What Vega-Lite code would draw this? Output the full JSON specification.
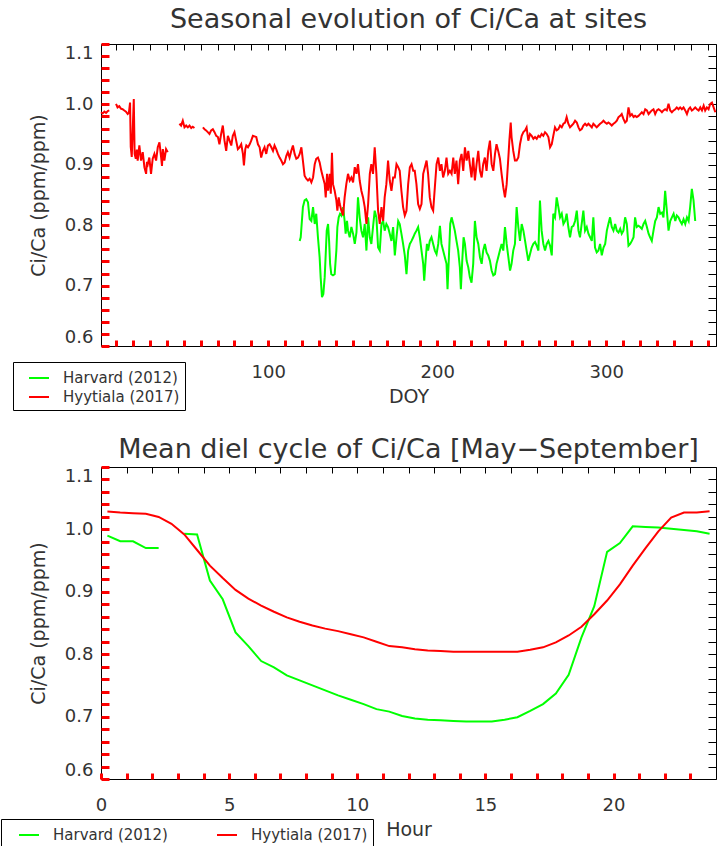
{
  "$schema": "https://vega.github.io/schema/vega-lite/v6.json",
  "background": "white",
  "padding": {"left": 0, "top": 5, "right": 2, "bottom": 0},
  "spacing": 121,
  "bounds": "flush",
  "config": {
    "font": "DejaVu Sans",
    "view": {"stroke": "black", "strokeWidth": 1},
    "axis": {"domain": false, "ticks": true, "tickColor": "#000000", "tickOpacity": 1, "tickWidth": 1, "zindex": 1, "labelColor": "#333", "labelFontSize": 18, "titleColor": "#333", "titleFontSize": 19, "titleFontWeight": "normal", "grid": false, "labelOverlap": false},
    "title": {"color": "#333", "fontWeight": "normal", "fontSize": 27, "anchor": "middle"},
    "legend": {"labelColor": "#333", "labelFontSize": 15}
  },
  "resolve": {"scale": {"color": "independent"}, "legend": {"color": "independent"}},
  "datasets": {
    "seasonal": [
      {"site":"Harvard (2012)","seg":"H","doy":118.6,"ci_ca":0.774},{"site":"Harvard (2012)","seg":"H","doy":119.2,"ci_ca":0.780},{"site":"Harvard (2012)","seg":"H","doy":120.5,"ci_ca":0.830},{"site":"Harvard (2012)","seg":"H","doy":121.5,"ci_ca":0.841},{"site":"Harvard (2012)","seg":"H","doy":122.5,"ci_ca":0.843},{"site":"Harvard (2012)","seg":"H","doy":123.5,"ci_ca":0.838},{"site":"Harvard (2012)","seg":"H","doy":124.5,"ci_ca":0.810},{"site":"Harvard (2012)","seg":"H","doy":125.5,"ci_ca":0.807},{"site":"Harvard (2012)","seg":"H","doy":126.5,"ci_ca":0.830},{"site":"Harvard (2012)","seg":"H","doy":127.5,"ci_ca":0.802},{"site":"Harvard (2012)","seg":"H","doy":128.4,"ci_ca":0.819},{"site":"Harvard (2012)","seg":"H","doy":129.4,"ci_ca":0.780},{"site":"Harvard (2012)","seg":"H","doy":130.4,"ci_ca":0.747},{"site":"Harvard (2012)","seg":"H","doy":131.0,"ci_ca":0.714},{"site":"Harvard (2012)","seg":"H","doy":131.8,"ci_ca":0.681},{"site":"Harvard (2012)","seg":"H","doy":132.6,"ci_ca":0.686},{"site":"Harvard (2012)","seg":"H","doy":133.4,"ci_ca":0.714},{"site":"Harvard (2012)","seg":"H","doy":134.0,"ci_ca":0.752},{"site":"Harvard (2012)","seg":"H","doy":134.6,"ci_ca":0.791},{"site":"Harvard (2012)","seg":"H","doy":135.4,"ci_ca":0.802},{"site":"Harvard (2012)","seg":"H","doy":136.0,"ci_ca":0.774},{"site":"Harvard (2012)","seg":"H","doy":136.6,"ci_ca":0.736},{"site":"Harvard (2012)","seg":"H","doy":137.3,"ci_ca":0.719},{"site":"Harvard (2012)","seg":"H","doy":138.3,"ci_ca":0.717},{"site":"Harvard (2012)","seg":"H","doy":139.3,"ci_ca":0.719},{"site":"Harvard (2012)","seg":"H","doy":140.3,"ci_ca":0.758},{"site":"Harvard (2012)","seg":"H","doy":140.9,"ci_ca":0.797},{"site":"Harvard (2012)","seg":"H","doy":141.7,"ci_ca":0.813},{"site":"Harvard (2012)","seg":"H","doy":142.5,"ci_ca":0.819},{"site":"Harvard (2012)","seg":"H","doy":143.3,"ci_ca":0.816},{"site":"Harvard (2012)","seg":"H","doy":144.3,"ci_ca":0.830},{"site":"Harvard (2012)","seg":"H","doy":145.2,"ci_ca":0.807},{"site":"Harvard (2012)","seg":"H","doy":145.8,"ci_ca":0.786},{"site":"Harvard (2012)","seg":"H","doy":146.6,"ci_ca":0.807},{"site":"Harvard (2012)","seg":"H","doy":147.2,"ci_ca":0.791},{"site":"Harvard (2012)","seg":"H","doy":148.2,"ci_ca":0.780},{"site":"Harvard (2012)","seg":"H","doy":149.2,"ci_ca":0.797},{"site":"Harvard (2012)","seg":"H","doy":150.2,"ci_ca":0.786},{"site":"Harvard (2012)","seg":"H","doy":151.2,"ci_ca":0.769},{"site":"Harvard (2012)","seg":"H","doy":152.2,"ci_ca":0.788},{"site":"Harvard (2012)","seg":"H","doy":153.1,"ci_ca":0.846},{"site":"Harvard (2012)","seg":"H","doy":154.1,"ci_ca":0.813},{"site":"Harvard (2012)","seg":"H","doy":155.1,"ci_ca":0.791},{"site":"Harvard (2012)","seg":"H","doy":156.1,"ci_ca":0.780},{"site":"Harvard (2012)","seg":"H","doy":157.1,"ci_ca":0.802},{"site":"Harvard (2012)","seg":"H","doy":158.1,"ci_ca":0.758},{"site":"Harvard (2012)","seg":"H","doy":159.1,"ci_ca":0.813},{"site":"Harvard (2012)","seg":"H","doy":160.1,"ci_ca":0.780},{"site":"Harvard (2012)","seg":"H","doy":161.0,"ci_ca":0.769},{"site":"Harvard (2012)","seg":"H","doy":162.0,"ci_ca":0.797},{"site":"Harvard (2012)","seg":"H","doy":163.0,"ci_ca":0.824},{"site":"Harvard (2012)","seg":"H","doy":164.0,"ci_ca":0.813},{"site":"Harvard (2012)","seg":"H","doy":165.0,"ci_ca":0.763},{"site":"Harvard (2012)","seg":"H","doy":166.0,"ci_ca":0.758},{"site":"Harvard (2012)","seg":"H","doy":167.0,"ci_ca":0.802},{"site":"Harvard (2012)","seg":"H","doy":168.0,"ci_ca":0.807},{"site":"Harvard (2012)","seg":"H","doy":168.9,"ci_ca":0.791},{"site":"Harvard (2012)","seg":"H","doy":169.9,"ci_ca":0.802},{"site":"Harvard (2012)","seg":"H","doy":170.9,"ci_ca":0.797},{"site":"Harvard (2012)","seg":"H","doy":171.9,"ci_ca":0.786},{"site":"Harvard (2012)","seg":"H","doy":172.9,"ci_ca":0.774},
      {"site":"Harvard (2012)","seg":"H","doy":173.9,"ci_ca":0.797},{"site":"Harvard (2012)","seg":"H","doy":174.9,"ci_ca":0.750},{"site":"Harvard (2012)","seg":"H","doy":175.9,"ci_ca":0.780},{"site":"Harvard (2012)","seg":"H","doy":176.9,"ci_ca":0.807},{"site":"Harvard (2012)","seg":"H","doy":177.8,"ci_ca":0.802},{"site":"Harvard (2012)","seg":"H","doy":178.8,"ci_ca":0.786},{"site":"Harvard (2012)","seg":"H","doy":179.8,"ci_ca":0.769},{"site":"Harvard (2012)","seg":"H","doy":180.8,"ci_ca":0.750},{"site":"Harvard (2012)","seg":"H","doy":181.8,"ci_ca":0.719},{"site":"Harvard (2012)","seg":"H","doy":182.8,"ci_ca":0.758},{"site":"Harvard (2012)","seg":"H","doy":183.8,"ci_ca":0.769},{"site":"Harvard (2012)","seg":"H","doy":184.8,"ci_ca":0.774},{"site":"Harvard (2012)","seg":"H","doy":185.8,"ci_ca":0.780},{"site":"Harvard (2012)","seg":"H","doy":186.7,"ci_ca":0.786},{"site":"Harvard (2012)","seg":"H","doy":187.7,"ci_ca":0.791},{"site":"Harvard (2012)","seg":"H","doy":188.7,"ci_ca":0.797},{"site":"Harvard (2012)","seg":"H","doy":189.7,"ci_ca":0.780},{"site":"Harvard (2012)","seg":"H","doy":190.7,"ci_ca":0.758},{"site":"Harvard (2012)","seg":"H","doy":191.7,"ci_ca":0.736},{"site":"Harvard (2012)","seg":"H","doy":192.3,"ci_ca":0.708},{"site":"Harvard (2012)","seg":"H","doy":193.1,"ci_ca":0.741},{"site":"Harvard (2012)","seg":"H","doy":193.9,"ci_ca":0.769},{"site":"Harvard (2012)","seg":"H","doy":194.6,"ci_ca":0.758},{"site":"Harvard (2012)","seg":"H","doy":195.6,"ci_ca":0.774},{"site":"Harvard (2012)","seg":"H","doy":196.6,"ci_ca":0.780},{"site":"Harvard (2012)","seg":"H","doy":197.6,"ci_ca":0.769},{"site":"Harvard (2012)","seg":"H","doy":198.6,"ci_ca":0.758},{"site":"Harvard (2012)","seg":"H","doy":199.6,"ci_ca":0.752},{"site":"Harvard (2012)","seg":"H","doy":200.6,"ci_ca":0.769},{"site":"Harvard (2012)","seg":"H","doy":201.6,"ci_ca":0.799},{"site":"Harvard (2012)","seg":"H","doy":202.5,"ci_ca":0.769},{"site":"Harvard (2012)","seg":"H","doy":203.5,"ci_ca":0.758},{"site":"Harvard (2012)","seg":"H","doy":204.5,"ci_ca":0.747},{"site":"Harvard (2012)","seg":"H","doy":205.5,"ci_ca":0.736},{"site":"Harvard (2012)","seg":"H","doy":206.1,"ci_ca":0.694},{"site":"Harvard (2012)","seg":"H","doy":206.9,"ci_ca":0.747},{"site":"Harvard (2012)","seg":"H","doy":207.7,"ci_ca":0.802},{"site":"Harvard (2012)","seg":"H","doy":208.5,"ci_ca":0.813},{"site":"Harvard (2012)","seg":"H","doy":209.5,"ci_ca":0.802},{"site":"Harvard (2012)","seg":"H","doy":210.4,"ci_ca":0.791},{"site":"Harvard (2012)","seg":"H","doy":211.4,"ci_ca":0.774},{"site":"Harvard (2012)","seg":"H","doy":212.4,"ci_ca":0.758},{"site":"Harvard (2012)","seg":"H","doy":213.4,"ci_ca":0.730},{"site":"Harvard (2012)","seg":"H","doy":214.0,"ci_ca":0.694},{"site":"Harvard (2012)","seg":"H","doy":214.8,"ci_ca":0.741},{"site":"Harvard (2012)","seg":"H","doy":215.6,"ci_ca":0.780},{"site":"Harvard (2012)","seg":"H","doy":216.4,"ci_ca":0.769},{"site":"Harvard (2012)","seg":"H","doy":217.4,"ci_ca":0.741},{"site":"Harvard (2012)","seg":"H","doy":218.4,"ci_ca":0.730},{"site":"Harvard (2012)","seg":"H","doy":219.3,"ci_ca":0.714},{"site":"Harvard (2012)","seg":"H","doy":220.3,"ci_ca":0.705},{"site":"Harvard (2012)","seg":"H","doy":221.3,"ci_ca":0.736},{"site":"Harvard (2012)","seg":"H","doy":222.3,"ci_ca":0.807},{"site":"Harvard (2012)","seg":"H","doy":223.3,"ci_ca":0.780},{"site":"Harvard (2012)","seg":"H","doy":224.3,"ci_ca":0.769},{"site":"Harvard (2012)","seg":"H","doy":225.3,"ci_ca":0.747},{"site":"Harvard (2012)","seg":"H","doy":226.3,"ci_ca":0.736},{"site":"Harvard (2012)","seg":"H","doy":227.2,"ci_ca":0.758},{"site":"Harvard (2012)","seg":"H","doy":228.2,"ci_ca":0.769},{"site":"Harvard (2012)","seg":"H","doy":229.2,"ci_ca":0.755},{"site":"Harvard (2012)","seg":"H","doy":230.2,"ci_ca":0.750},{"site":"Harvard (2012)","seg":"H","doy":231.2,"ci_ca":0.741},{"site":"Harvard (2012)","seg":"H","doy":232.2,"ci_ca":0.725},{"site":"Harvard (2012)","seg":"H","doy":233.2,"ci_ca":0.717},{"site":"Harvard (2012)","seg":"H","doy":234.2,"ci_ca":0.719},{"site":"Harvard (2012)","seg":"H","doy":235.1,"ci_ca":0.736},{"site":"Harvard (2012)","seg":"H","doy":236.1,"ci_ca":0.747},{"site":"Harvard (2012)","seg":"H","doy":237.1,"ci_ca":0.758},{"site":"Harvard (2012)","seg":"H","doy":238.1,"ci_ca":0.769},{"site":"Harvard (2012)","seg":"H","doy":239.1,"ci_ca":0.758},{"site":"Harvard (2012)","seg":"H","doy":240.1,"ci_ca":0.797},{"site":"Harvard (2012)","seg":"H","doy":241.1,"ci_ca":0.769},{"site":"Harvard (2012)","seg":"H","doy":242.1,"ci_ca":0.747},{"site":"Harvard (2012)","seg":"H","doy":243.1,"ci_ca":0.725},{"site":"Harvard (2012)","seg":"H","doy":244.0,"ci_ca":0.736},{"site":"Harvard (2012)","seg":"H","doy":245.0,"ci_ca":0.758},{"site":"Harvard (2012)","seg":"H","doy":246.0,"ci_ca":0.769},{"site":"Harvard (2012)","seg":"H","doy":247.0,"ci_ca":0.830},{"site":"Harvard (2012)","seg":"H","doy":248.0,"ci_ca":0.797},{"site":"Harvard (2012)","seg":"H","doy":249.0,"ci_ca":0.774},{"site":"Harvard (2012)","seg":"H","doy":250.0,"ci_ca":0.802},{"site":"Harvard (2012)","seg":"H","doy":251.0,"ci_ca":0.791},{"site":"Harvard (2012)","seg":"H","doy":252.0,"ci_ca":0.774},{"site":"Harvard (2012)","seg":"H","doy":252.9,"ci_ca":0.758},{"site":"Harvard (2012)","seg":"H","doy":253.9,"ci_ca":0.741},{"site":"Harvard (2012)","seg":"H","doy":254.9,"ci_ca":0.752},{"site":"Harvard (2012)","seg":"H","doy":255.9,"ci_ca":0.763},{"site":"Harvard (2012)","seg":"H","doy":256.9,"ci_ca":0.769},{"site":"Harvard (2012)","seg":"H","doy":257.9,"ci_ca":0.772},{"site":"Harvard (2012)","seg":"H","doy":258.9,"ci_ca":0.766},{"site":"Harvard (2012)","seg":"H","doy":259.9,"ci_ca":0.758},{"site":"Harvard (2012)","seg":"H","doy":260.8,"ci_ca":0.841},{"site":"Harvard (2012)","seg":"H","doy":261.8,"ci_ca":0.791},{"site":"Harvard (2012)","seg":"H","doy":262.8,"ci_ca":0.769},{"site":"Harvard (2012)","seg":"H","doy":263.8,"ci_ca":0.758},{"site":"Harvard (2012)","seg":"H","doy":264.8,"ci_ca":0.769},{"site":"Harvard (2012)","seg":"H","doy":265.8,"ci_ca":0.774},{"site":"Harvard (2012)","seg":"H","doy":266.8,"ci_ca":0.766},{"site":"Harvard (2012)","seg":"H","doy":267.8,"ci_ca":0.750},{"site":"Harvard (2012)","seg":"H","doy":268.7,"ci_ca":0.819},{"site":"Harvard (2012)","seg":"H","doy":269.7,"ci_ca":0.813},{"site":"Harvard (2012)","seg":"H","doy":270.7,"ci_ca":0.846},{"site":"Harvard (2012)","seg":"H","doy":271.7,"ci_ca":0.830},{"site":"Harvard (2012)","seg":"H","doy":272.7,"ci_ca":0.813},{"site":"Harvard (2012)","seg":"H","doy":273.7,"ci_ca":0.819},{"site":"Harvard (2012)","seg":"H","doy":274.7,"ci_ca":0.802},{"site":"Harvard (2012)","seg":"H","doy":275.7,"ci_ca":0.807},{"site":"Harvard (2012)","seg":"H","doy":276.6,"ci_ca":0.819},{"site":"Harvard (2012)","seg":"H","doy":277.6,"ci_ca":0.797},{"site":"Harvard (2012)","seg":"H","doy":278.6,"ci_ca":0.780},{"site":"Harvard (2012)","seg":"H","doy":279.6,"ci_ca":0.797},{"site":"Harvard (2012)","seg":"H","doy":280.6,"ci_ca":0.799},{"site":"Harvard (2012)","seg":"H","doy":281.6,"ci_ca":0.807},{"site":"Harvard (2012)","seg":"H","doy":282.6,"ci_ca":0.824},{"site":"Harvard (2012)","seg":"H","doy":283.6,"ci_ca":0.791},{"site":"Harvard (2012)","seg":"H","doy":284.5,"ci_ca":0.780},{"site":"Harvard (2012)","seg":"H","doy":285.5,"ci_ca":0.802},{"site":"Harvard (2012)","seg":"H","doy":286.5,"ci_ca":0.824},{"site":"Harvard (2012)","seg":"H","doy":287.5,"ci_ca":0.791},{"site":"Harvard (2012)","seg":"H","doy":288.5,"ci_ca":0.797},{"site":"Harvard (2012)","seg":"H","doy":289.5,"ci_ca":0.786},{"site":"Harvard (2012)","seg":"H","doy":290.5,"ci_ca":0.780},{"site":"Harvard (2012)","seg":"H","doy":291.5,"ci_ca":0.774},{"site":"Harvard (2012)","seg":"H","doy":292.4,"ci_ca":0.813},{"site":"Harvard (2012)","seg":"H","doy":293.4,"ci_ca":0.763},{"site":"Harvard (2012)","seg":"H","doy":294.4,"ci_ca":0.755},{"site":"Harvard (2012)","seg":"H","doy":295.4,"ci_ca":0.758},{"site":"Harvard (2012)","seg":"H","doy":296.4,"ci_ca":0.769},{"site":"Harvard (2012)","seg":"H","doy":297.4,"ci_ca":0.750},{"site":"Harvard (2012)","seg":"H","doy":298.4,"ci_ca":0.763},{"site":"Harvard (2012)","seg":"H","doy":299.4,"ci_ca":0.769},{"site":"Harvard (2012)","seg":"H","doy":300.4,"ci_ca":0.791},{"site":"Harvard (2012)","seg":"H","doy":301.3,"ci_ca":0.802},{"site":"Harvard (2012)","seg":"H","doy":302.3,"ci_ca":0.813},{"site":"Harvard (2012)","seg":"H","doy":303.3,"ci_ca":0.797},{"site":"Harvard (2012)","seg":"H","doy":304.3,"ci_ca":0.791},{"site":"Harvard (2012)","seg":"H","doy":305.3,"ci_ca":0.802},{"site":"Harvard (2012)","seg":"H","doy":306.3,"ci_ca":0.791},{"site":"Harvard (2012)","seg":"H","doy":307.3,"ci_ca":0.788},{"site":"Harvard (2012)","seg":"H","doy":308.3,"ci_ca":0.794},{"site":"Harvard (2012)","seg":"H","doy":309.2,"ci_ca":0.786},{"site":"Harvard (2012)","seg":"H","doy":310.2,"ci_ca":0.791},{"site":"Harvard (2012)","seg":"H","doy":311.2,"ci_ca":0.813},{"site":"Harvard (2012)","seg":"H","doy":312.2,"ci_ca":0.802},{"site":"Harvard (2012)","seg":"H","doy":313.2,"ci_ca":0.766},{"site":"Harvard (2012)","seg":"H","doy":314.2,"ci_ca":0.769},{"site":"Harvard (2012)","seg":"H","doy":315.2,"ci_ca":0.774},{"site":"Harvard (2012)","seg":"H","doy":316.2,"ci_ca":0.780},{"site":"Harvard (2012)","seg":"H","doy":317.1,"ci_ca":0.813},{"site":"Harvard (2012)","seg":"H","doy":318.1,"ci_ca":0.797},{"site":"Harvard (2012)","seg":"H","doy":319.1,"ci_ca":0.799},{"site":"Harvard (2012)","seg":"H","doy":320.1,"ci_ca":0.797},{"site":"Harvard (2012)","seg":"H","doy":321.1,"ci_ca":0.794},{"site":"Harvard (2012)","seg":"H","doy":322.1,"ci_ca":0.802},{"site":"Harvard (2012)","seg":"H","doy":323.1,"ci_ca":0.807},{"site":"Harvard (2012)","seg":"H","doy":324.1,"ci_ca":0.797},{"site":"Harvard (2012)","seg":"H","doy":325.1,"ci_ca":0.786},{"site":"Harvard (2012)","seg":"H","doy":326.0,"ci_ca":0.780},{"site":"Harvard (2012)","seg":"H","doy":327.0,"ci_ca":0.774},{"site":"Harvard (2012)","seg":"H","doy":328.0,"ci_ca":0.791},{"site":"Harvard (2012)","seg":"H","doy":329.0,"ci_ca":0.807},{"site":"Harvard (2012)","seg":"H","doy":330.0,"ci_ca":0.813},{"site":"Harvard (2012)","seg":"H","doy":331.0,"ci_ca":0.830},{"site":"Harvard (2012)","seg":"H","doy":332.0,"ci_ca":0.819},{"site":"Harvard (2012)","seg":"H","doy":333.0,"ci_ca":0.821},{"site":"Harvard (2012)","seg":"H","doy":333.9,"ci_ca":0.813},{"site":"Harvard (2012)","seg":"H","doy":334.9,"ci_ca":0.857},{"site":"Harvard (2012)","seg":"H","doy":335.9,"ci_ca":0.824},{"site":"Harvard (2012)","seg":"H","doy":336.9,"ci_ca":0.791},{"site":"Harvard (2012)","seg":"H","doy":337.9,"ci_ca":0.807},{"site":"Harvard (2012)","seg":"H","doy":338.9,"ci_ca":0.813},{"site":"Harvard (2012)","seg":"H","doy":339.9,"ci_ca":0.819},{"site":"Harvard (2012)","seg":"H","doy":340.9,"ci_ca":0.807},{"site":"Harvard (2012)","seg":"H","doy":341.8,"ci_ca":0.816},{"site":"Harvard (2012)","seg":"H","doy":342.8,"ci_ca":0.813},{"site":"Harvard (2012)","seg":"H","doy":343.8,"ci_ca":0.807},{"site":"Harvard (2012)","seg":"H","doy":344.8,"ci_ca":0.802},{"site":"Harvard (2012)","seg":"H","doy":345.8,"ci_ca":0.810},{"site":"Harvard (2012)","seg":"H","doy":346.8,"ci_ca":0.802},{"site":"Harvard (2012)","seg":"H","doy":347.8,"ci_ca":0.813},{"site":"Harvard (2012)","seg":"H","doy":348.8,"ci_ca":0.807},{"site":"Harvard (2012)","seg":"H","doy":349.7,"ci_ca":0.830},{"site":"Harvard (2012)","seg":"H","doy":350.7,"ci_ca":0.860},{"site":"Harvard (2012)","seg":"H","doy":351.7,"ci_ca":0.841},{"site":"Harvard (2012)","seg":"H","doy":352.7,"ci_ca":0.807},
      {"site":"Hyytiala (2017)","seg":"Y1","doy":1,"ci_ca":0.987},{"site":"Hyytiala (2017)","seg":"Y1","doy":2,"ci_ca":0.985},{"site":"Hyytiala (2017)","seg":"Y1","doy":3,"ci_ca":0.988},{"site":"Hyytiala (2017)","seg":"Y1","doy":4,"ci_ca":0.986},{"site":"Hyytiala (2017)","seg":"Y1","doy":5,"ci_ca":0.989},{"site":"Hyytiala (2017)","seg":"Y1","doy":5.9,"ci_ca":0.990},
      {"site":"Hyytiala (2017)","seg":"Y2","doy":9.9,"ci_ca":1.001},{"site":"Hyytiala (2017)","seg":"Y2","doy":10.8,"ci_ca":0.995},{"site":"Hyytiala (2017)","seg":"Y2","doy":11.8,"ci_ca":0.997},{"site":"Hyytiala (2017)","seg":"Y2","doy":12.8,"ci_ca":0.993},{"site":"Hyytiala (2017)","seg":"Y2","doy":13.8,"ci_ca":0.992},{"site":"Hyytiala (2017)","seg":"Y2","doy":14.8,"ci_ca":0.990},{"site":"Hyytiala (2017)","seg":"Y2","doy":15.8,"ci_ca":0.988},{"site":"Hyytiala (2017)","seg":"Y2","doy":16.8,"ci_ca":0.984},{"site":"Hyytiala (2017)","seg":"Y2","doy":17.5,"ci_ca":0.986},{"site":"Hyytiala (2017)","seg":"Y2","doy":18.2,"ci_ca":1.003},{"site":"Hyytiala (2017)","seg":"Y2","doy":18.6,"ci_ca":0.930},{"site":"Hyytiala (2017)","seg":"Y2","doy":19.2,"ci_ca":0.913},{"site":"Hyytiala (2017)","seg":"Y2","doy":19.8,"ci_ca":0.960},{"site":"Hyytiala (2017)","seg":"Y2","doy":20.4,"ci_ca":1.009},{"site":"Hyytiala (2017)","seg":"Y2","doy":20.9,"ci_ca":0.918},{"site":"Hyytiala (2017)","seg":"Y2","doy":21.6,"ci_ca":0.910},{"site":"Hyytiala (2017)","seg":"Y2","doy":22.2,"ci_ca":0.925},{"site":"Hyytiala (2017)","seg":"Y2","doy":22.7,"ci_ca":0.907},{"site":"Hyytiala (2017)","seg":"Y2","doy":23.7,"ci_ca":0.932},{"site":"Hyytiala (2017)","seg":"Y2","doy":24.7,"ci_ca":0.907},{"site":"Hyytiala (2017)","seg":"Y2","doy":25.7,"ci_ca":0.921},{"site":"Hyytiala (2017)","seg":"Y2","doy":26.7,"ci_ca":0.896},{"site":"Hyytiala (2017)","seg":"Y2","doy":27.7,"ci_ca":0.885},{"site":"Hyytiala (2017)","seg":"Y2","doy":28.2,"ci_ca":0.905},{"site":"Hyytiala (2017)","seg":"Y2","doy":28.7,"ci_ca":0.901},{"site":"Hyytiala (2017)","seg":"Y2","doy":29.6,"ci_ca":0.912},{"site":"Hyytiala (2017)","seg":"Y2","doy":30.6,"ci_ca":0.885},{"site":"Hyytiala (2017)","seg":"Y2","doy":31.6,"ci_ca":0.910},{"site":"Hyytiala (2017)","seg":"Y2","doy":32.6,"ci_ca":0.918},{"site":"Hyytiala (2017)","seg":"Y2","doy":33.6,"ci_ca":0.907},{"site":"Hyytiala (2017)","seg":"Y2","doy":34.6,"ci_ca":0.929},{"site":"Hyytiala (2017)","seg":"Y2","doy":35.6,"ci_ca":0.937},{"site":"Hyytiala (2017)","seg":"Y2","doy":36.6,"ci_ca":0.912},{"site":"Hyytiala (2017)","seg":"Y2","doy":37.1,"ci_ca":0.898},{"site":"Hyytiala (2017)","seg":"Y2","doy":37.6,"ci_ca":0.926},{"site":"Hyytiala (2017)","seg":"Y2","doy":38.5,"ci_ca":0.907},{"site":"Hyytiala (2017)","seg":"Y2","doy":39.5,"ci_ca":0.926},{"site":"Hyytiala (2017)","seg":"Y2","doy":40.5,"ci_ca":0.921},
      {"site":"Hyytiala (2017)","seg":"Y3","doy":47.4,"ci_ca":0.968},{"site":"Hyytiala (2017)","seg":"Y3","doy":48.4,"ci_ca":0.965},{"site":"Hyytiala (2017)","seg":"Y3","doy":49.4,"ci_ca":0.973},{"site":"Hyytiala (2017)","seg":"Y3","doy":50.4,"ci_ca":0.962},{"site":"Hyytiala (2017)","seg":"Y3","doy":51.4,"ci_ca":0.965},{"site":"Hyytiala (2017)","seg":"Y3","doy":52.4,"ci_ca":0.962},{"site":"Hyytiala (2017)","seg":"Y3","doy":53.4,"ci_ca":0.965},{"site":"Hyytiala (2017)","seg":"Y3","doy":54.4,"ci_ca":0.961},{"site":"Hyytiala (2017)","seg":"Y3","doy":55.3,"ci_ca":0.963},{"site":"Hyytiala (2017)","seg":"Y3","doy":56.3,"ci_ca":0.961},
      {"site":"Hyytiala (2017)","seg":"Y4","doy":61.3,"ci_ca":0.962},{"site":"Hyytiala (2017)","seg":"Y4","doy":62.3,"ci_ca":0.959},{"site":"Hyytiala (2017)","seg":"Y4","doy":63.2,"ci_ca":0.957},{"site":"Hyytiala (2017)","seg":"Y4","doy":64.2,"ci_ca":0.954},{"site":"Hyytiala (2017)","seg":"Y4","doy":65.2,"ci_ca":0.951},{"site":"Hyytiala (2017)","seg":"Y4","doy":66.2,"ci_ca":0.957},{"site":"Hyytiala (2017)","seg":"Y4","doy":67.2,"ci_ca":0.959},{"site":"Hyytiala (2017)","seg":"Y4","doy":68.2,"ci_ca":0.954},{"site":"Hyytiala (2017)","seg":"Y4","doy":69.2,"ci_ca":0.948},{"site":"Hyytiala (2017)","seg":"Y4","doy":70.2,"ci_ca":0.946},{"site":"Hyytiala (2017)","seg":"Y4","doy":71.1,"ci_ca":0.934},{"site":"Hyytiala (2017)","seg":"Y4","doy":72.1,"ci_ca":0.951},{"site":"Hyytiala (2017)","seg":"Y4","doy":73.1,"ci_ca":0.965},{"site":"Hyytiala (2017)","seg":"Y4","doy":74.1,"ci_ca":0.940},{"site":"Hyytiala (2017)","seg":"Y4","doy":75.1,"ci_ca":0.923},{"site":"Hyytiala (2017)","seg":"Y4","doy":76.1,"ci_ca":0.948},{"site":"Hyytiala (2017)","seg":"Y4","doy":77.1,"ci_ca":0.940},{"site":"Hyytiala (2017)","seg":"Y4","doy":78.1,"ci_ca":0.932},{"site":"Hyytiala (2017)","seg":"Y4","doy":79.0,"ci_ca":0.948},{"site":"Hyytiala (2017)","seg":"Y4","doy":80.0,"ci_ca":0.954},{"site":"Hyytiala (2017)","seg":"Y4","doy":81.0,"ci_ca":0.940},{"site":"Hyytiala (2017)","seg":"Y4","doy":82.0,"ci_ca":0.926},{"site":"Hyytiala (2017)","seg":"Y4","doy":83.0,"ci_ca":0.929},{"site":"Hyytiala (2017)","seg":"Y4","doy":84.0,"ci_ca":0.934},{"site":"Hyytiala (2017)","seg":"Y4","doy":85.0,"ci_ca":0.918},{"site":"Hyytiala (2017)","seg":"Y4","doy":85.6,"ci_ca":0.899},{"site":"Hyytiala (2017)","seg":"Y4","doy":86.4,"ci_ca":0.926},{"site":"Hyytiala (2017)","seg":"Y4","doy":87.0,"ci_ca":0.932},{"site":"Hyytiala (2017)","seg":"Y4","doy":88.0,"ci_ca":0.929},{"site":"Hyytiala (2017)","seg":"Y4","doy":89.0,"ci_ca":0.934},{"site":"Hyytiala (2017)","seg":"Y4","doy":89.9,"ci_ca":0.940},{"site":"Hyytiala (2017)","seg":"Y4","doy":90.9,"ci_ca":0.948},{"site":"Hyytiala (2017)","seg":"Y4","doy":91.9,"ci_ca":0.947},{"site":"Hyytiala (2017)","seg":"Y4","doy":92.9,"ci_ca":0.946},{"site":"Hyytiala (2017)","seg":"Y4","doy":93.9,"ci_ca":0.934},{"site":"Hyytiala (2017)","seg":"Y4","doy":94.9,"ci_ca":0.929},{"site":"Hyytiala (2017)","seg":"Y4","doy":95.8,"ci_ca":0.912},{"site":"Hyytiala (2017)","seg":"Y4","doy":96.8,"ci_ca":0.923},{"site":"Hyytiala (2017)","seg":"Y4","doy":97.8,"ci_ca":0.929},{"site":"Hyytiala (2017)","seg":"Y4","doy":98.8,"ci_ca":0.918},{"site":"Hyytiala (2017)","seg":"Y4","doy":99.8,"ci_ca":0.932},{"site":"Hyytiala (2017)","seg":"Y4","doy":100.8,"ci_ca":0.934},{"site":"Hyytiala (2017)","seg":"Y4","doy":101.8,"ci_ca":0.929},{"site":"Hyytiala (2017)","seg":"Y4","doy":102.8,"ci_ca":0.923},{"site":"Hyytiala (2017)","seg":"Y4","doy":103.7,"ci_ca":0.932},{"site":"Hyytiala (2017)","seg":"Y4","doy":104.7,"ci_ca":0.926},{"site":"Hyytiala (2017)","seg":"Y4","doy":105.7,"ci_ca":0.918},{"site":"Hyytiala (2017)","seg":"Y4","doy":106.7,"ci_ca":0.912},{"site":"Hyytiala (2017)","seg":"Y4","doy":107.7,"ci_ca":0.907},{"site":"Hyytiala (2017)","seg":"Y4","doy":108.7,"ci_ca":0.901},{"site":"Hyytiala (2017)","seg":"Y4","doy":109.7,"ci_ca":0.904},{"site":"Hyytiala (2017)","seg":"Y4","doy":110.7,"ci_ca":0.915},{"site":"Hyytiala (2017)","seg":"Y4","doy":111.6,"ci_ca":0.921},{"site":"Hyytiala (2017)","seg":"Y4","doy":112.6,"ci_ca":0.912},{"site":"Hyytiala (2017)","seg":"Y4","doy":113.6,"ci_ca":0.923},{"site":"Hyytiala (2017)","seg":"Y4","doy":114.6,"ci_ca":0.932},{"site":"Hyytiala (2017)","seg":"Y4","doy":115.6,"ci_ca":0.918},{"site":"Hyytiala (2017)","seg":"Y4","doy":116.6,"ci_ca":0.910},{"site":"Hyytiala (2017)","seg":"Y4","doy":117.6,"ci_ca":0.912},{"site":"Hyytiala (2017)","seg":"Y4","doy":118.6,"ci_ca":0.918},{"site":"Hyytiala (2017)","seg":"Y4","doy":119.6,"ci_ca":0.929},{"site":"Hyytiala (2017)","seg":"Y4","doy":120.5,"ci_ca":0.907},{"site":"Hyytiala (2017)","seg":"Y4","doy":121.5,"ci_ca":0.882},{"site":"Hyytiala (2017)","seg":"Y4","doy":122.5,"ci_ca":0.877},{"site":"Hyytiala (2017)","seg":"Y4","doy":123.5,"ci_ca":0.874},{"site":"Hyytiala (2017)","seg":"Y4","doy":124.5,"ci_ca":0.877},{"site":"Hyytiala (2017)","seg":"Y4","doy":125.5,"ci_ca":0.871},{"site":"Hyytiala (2017)","seg":"Y4","doy":126.5,"ci_ca":0.879},{"site":"Hyytiala (2017)","seg":"Y4","doy":127.5,"ci_ca":0.901},{"site":"Hyytiala (2017)","seg":"Y4","doy":128.4,"ci_ca":0.910},{"site":"Hyytiala (2017)","seg":"Y4","doy":129.4,"ci_ca":0.912},{"site":"Hyytiala (2017)","seg":"Y4","doy":130.4,"ci_ca":0.904},{"site":"Hyytiala (2017)","seg":"Y4","doy":131.4,"ci_ca":0.890},{"site":"Hyytiala (2017)","seg":"Y4","doy":132.4,"ci_ca":0.879},{"site":"Hyytiala (2017)","seg":"Y4","doy":133.4,"ci_ca":0.868},{"site":"Hyytiala (2017)","seg":"Y4","doy":134.0,"ci_ca":0.846},{"site":"Hyytiala (2017)","seg":"Y4","doy":134.8,"ci_ca":0.885},{"site":"Hyytiala (2017)","seg":"Y4","doy":135.4,"ci_ca":0.857},{"site":"Hyytiala (2017)","seg":"Y4","doy":136.4,"ci_ca":0.885},{"site":"Hyytiala (2017)","seg":"Y4","doy":137.0,"ci_ca":0.852},{"site":"Hyytiala (2017)","seg":"Y4","doy":137.7,"ci_ca":0.920},{"site":"Hyytiala (2017)","seg":"Y4","doy":138.3,"ci_ca":0.868},{"site":"Hyytiala (2017)","seg":"Y4","doy":139.3,"ci_ca":0.857},{"site":"Hyytiala (2017)","seg":"Y4","doy":140.3,"ci_ca":0.841},{"site":"Hyytiala (2017)","seg":"Y4","doy":140.9,"ci_ca":0.824},{"site":"Hyytiala (2017)","seg":"Y4","doy":141.7,"ci_ca":0.846},{"site":"Hyytiala (2017)","seg":"Y4","doy":142.3,"ci_ca":0.835},{"site":"Hyytiala (2017)","seg":"Y4","doy":143.3,"ci_ca":0.824},{"site":"Hyytiala (2017)","seg":"Y4","doy":144.3,"ci_ca":0.816},{"site":"Hyytiala (2017)","seg":"Y4","doy":145.2,"ci_ca":0.846},{"site":"Hyytiala (2017)","seg":"Y4","doy":146.2,"ci_ca":0.868},{"site":"Hyytiala (2017)","seg":"Y4","doy":147.2,"ci_ca":0.885},{"site":"Hyytiala (2017)","seg":"Y4","doy":148.2,"ci_ca":0.874},{"site":"Hyytiala (2017)","seg":"Y4","doy":149.2,"ci_ca":0.879},{"site":"Hyytiala (2017)","seg":"Y4","doy":150.2,"ci_ca":0.871},{"site":"Hyytiala (2017)","seg":"Y4","doy":151.2,"ci_ca":0.896},{"site":"Hyytiala (2017)","seg":"Y4","doy":152.2,"ci_ca":0.885},{"site":"Hyytiala (2017)","seg":"Y4","doy":153.1,"ci_ca":0.901},{"site":"Hyytiala (2017)","seg":"Y4","doy":154.1,"ci_ca":0.874},{"site":"Hyytiala (2017)","seg":"Y4","doy":155.1,"ci_ca":0.857},{"site":"Hyytiala (2017)","seg":"Y4","doy":156.1,"ci_ca":0.846},{"site":"Hyytiala (2017)","seg":"Y4","doy":157.1,"ci_ca":0.830},{"site":"Hyytiala (2017)","seg":"Y4","doy":158.1,"ci_ca":0.802},{"site":"Hyytiala (2017)","seg":"Y4","doy":159.1,"ci_ca":0.835},{"site":"Hyytiala (2017)","seg":"Y4","doy":160.1,"ci_ca":0.885},{"site":"Hyytiala (2017)","seg":"Y4","doy":161.0,"ci_ca":0.901},{"site":"Hyytiala (2017)","seg":"Y4","doy":162.0,"ci_ca":0.885},{"site":"Hyytiala (2017)","seg":"Y4","doy":163.0,"ci_ca":0.929},{"site":"Hyytiala (2017)","seg":"Y4","doy":164.0,"ci_ca":0.885},{"site":"Hyytiala (2017)","seg":"Y4","doy":165.0,"ci_ca":0.824},{"site":"Hyytiala (2017)","seg":"Y4","doy":166.0,"ci_ca":0.802},{"site":"Hyytiala (2017)","seg":"Y4","doy":167.0,"ci_ca":0.830},{"site":"Hyytiala (2017)","seg":"Y4","doy":168.0,"ci_ca":0.807},{"site":"Hyytiala (2017)","seg":"Y4","doy":168.9,"ci_ca":0.846},{"site":"Hyytiala (2017)","seg":"Y4","doy":169.9,"ci_ca":0.868},{"site":"Hyytiala (2017)","seg":"Y4","doy":170.9,"ci_ca":0.907},{"site":"Hyytiala (2017)","seg":"Y4","doy":171.9,"ci_ca":0.874},{"site":"Hyytiala (2017)","seg":"Y4","doy":172.9,"ci_ca":0.857},{"site":"Hyytiala (2017)","seg":"Y4","doy":173.9,"ci_ca":0.879},{"site":"Hyytiala (2017)","seg":"Y4","doy":174.9,"ci_ca":0.879},{"site":"Hyytiala (2017)","seg":"Y4","doy":175.9,"ci_ca":0.901},{"site":"Hyytiala (2017)","seg":"Y4","doy":176.9,"ci_ca":0.896},{"site":"Hyytiala (2017)","seg":"Y4","doy":177.8,"ci_ca":0.890},{"site":"Hyytiala (2017)","seg":"Y4","doy":178.8,"ci_ca":0.857},{"site":"Hyytiala (2017)","seg":"Y4","doy":179.8,"ci_ca":0.830},{"site":"Hyytiala (2017)","seg":"Y4","doy":180.8,"ci_ca":0.816},{"site":"Hyytiala (2017)","seg":"Y4","doy":181.8,"ci_ca":0.824},{"site":"Hyytiala (2017)","seg":"Y4","doy":182.8,"ci_ca":0.868},{"site":"Hyytiala (2017)","seg":"Y4","doy":183.8,"ci_ca":0.896},{"site":"Hyytiala (2017)","seg":"Y4","doy":184.8,"ci_ca":0.901},{"site":"Hyytiala (2017)","seg":"Y4","doy":185.8,"ci_ca":0.890},{"site":"Hyytiala (2017)","seg":"Y4","doy":186.7,"ci_ca":0.890},{"site":"Hyytiala (2017)","seg":"Y4","doy":187.7,"ci_ca":0.868},{"site":"Hyytiala (2017)","seg":"Y4","doy":188.7,"ci_ca":0.835},{"site":"Hyytiala (2017)","seg":"Y4","doy":189.7,"ci_ca":0.827},{"site":"Hyytiala (2017)","seg":"Y4","doy":190.7,"ci_ca":0.835},{"site":"Hyytiala (2017)","seg":"Y4","doy":191.7,"ci_ca":0.885},{"site":"Hyytiala (2017)","seg":"Y4","doy":192.7,"ci_ca":0.896},{"site":"Hyytiala (2017)","seg":"Y4","doy":193.7,"ci_ca":0.907},{"site":"Hyytiala (2017)","seg":"Y4","doy":194.6,"ci_ca":0.885},{"site":"Hyytiala (2017)","seg":"Y4","doy":195.6,"ci_ca":0.846},{"site":"Hyytiala (2017)","seg":"Y4","doy":196.6,"ci_ca":0.830},{"site":"Hyytiala (2017)","seg":"Y4","doy":197.6,"ci_ca":0.824},{"site":"Hyytiala (2017)","seg":"Y4","doy":198.6,"ci_ca":0.863},{"site":"Hyytiala (2017)","seg":"Y4","doy":199.6,"ci_ca":0.901},{"site":"Hyytiala (2017)","seg":"Y4","doy":200.6,"ci_ca":0.912},{"site":"Hyytiala (2017)","seg":"Y4","doy":201.6,"ci_ca":0.890},{"site":"Hyytiala (2017)","seg":"Y4","doy":202.5,"ci_ca":0.901},{"site":"Hyytiala (2017)","seg":"Y4","doy":203.5,"ci_ca":0.879},{"site":"Hyytiala (2017)","seg":"Y4","doy":204.5,"ci_ca":0.890},{"site":"Hyytiala (2017)","seg":"Y4","doy":205.5,"ci_ca":0.912},{"site":"Hyytiala (2017)","seg":"Y4","doy":206.5,"ci_ca":0.885},{"site":"Hyytiala (2017)","seg":"Y4","doy":207.5,"ci_ca":0.890},{"site":"Hyytiala (2017)","seg":"Y4","doy":208.5,"ci_ca":0.885},{"site":"Hyytiala (2017)","seg":"Y4","doy":209.5,"ci_ca":0.912},{"site":"Hyytiala (2017)","seg":"Y4","doy":210.4,"ci_ca":0.885},{"site":"Hyytiala (2017)","seg":"Y4","doy":211.4,"ci_ca":0.907},{"site":"Hyytiala (2017)","seg":"Y4","doy":212.4,"ci_ca":0.868},{"site":"Hyytiala (2017)","seg":"Y4","doy":213.4,"ci_ca":0.907},{"site":"Hyytiala (2017)","seg":"Y4","doy":214.4,"ci_ca":0.918},{"site":"Hyytiala (2017)","seg":"Y4","doy":215.4,"ci_ca":0.890},{"site":"Hyytiala (2017)","seg":"Y4","doy":216.4,"ci_ca":0.929},{"site":"Hyytiala (2017)","seg":"Y4","doy":217.4,"ci_ca":0.907},{"site":"Hyytiala (2017)","seg":"Y4","doy":218.4,"ci_ca":0.923},{"site":"Hyytiala (2017)","seg":"Y4","doy":219.3,"ci_ca":0.901},{"site":"Hyytiala (2017)","seg":"Y4","doy":220.3,"ci_ca":0.879},{"site":"Hyytiala (2017)","seg":"Y4","doy":221.3,"ci_ca":0.912},{"site":"Hyytiala (2017)","seg":"Y4","doy":222.3,"ci_ca":0.874},{"site":"Hyytiala (2017)","seg":"Y4","doy":223.3,"ci_ca":0.901},{"site":"Hyytiala (2017)","seg":"Y4","doy":224.3,"ci_ca":0.923},{"site":"Hyytiala (2017)","seg":"Y4","doy":225.3,"ci_ca":0.890},{"site":"Hyytiala (2017)","seg":"Y4","doy":226.3,"ci_ca":0.879},{"site":"Hyytiala (2017)","seg":"Y4","doy":227.2,"ci_ca":0.901},{"site":"Hyytiala (2017)","seg":"Y4","doy":228.2,"ci_ca":0.912},{"site":"Hyytiala (2017)","seg":"Y4","doy":229.2,"ci_ca":0.890},{"site":"Hyytiala (2017)","seg":"Y4","doy":230.2,"ci_ca":0.923},{"site":"Hyytiala (2017)","seg":"Y4","doy":231.2,"ci_ca":0.940},{"site":"Hyytiala (2017)","seg":"Y4","doy":232.2,"ci_ca":0.901},{"site":"Hyytiala (2017)","seg":"Y4","doy":233.2,"ci_ca":0.890},{"site":"Hyytiala (2017)","seg":"Y4","doy":234.2,"ci_ca":0.918},{"site":"Hyytiala (2017)","seg":"Y4","doy":235.1,"ci_ca":0.934},{"site":"Hyytiala (2017)","seg":"Y4","doy":236.1,"ci_ca":0.923},{"site":"Hyytiala (2017)","seg":"Y4","doy":237.1,"ci_ca":0.910},{"site":"Hyytiala (2017)","seg":"Y4","doy":238.1,"ci_ca":0.885},{"site":"Hyytiala (2017)","seg":"Y4","doy":239.1,"ci_ca":0.863},{"site":"Hyytiala (2017)","seg":"Y4","doy":240.1,"ci_ca":0.846},{"site":"Hyytiala (2017)","seg":"Y4","doy":241.1,"ci_ca":0.868},{"site":"Hyytiala (2017)","seg":"Y4","doy":242.1,"ci_ca":0.912},{"site":"Hyytiala (2017)","seg":"Y4","doy":242.7,"ci_ca":0.940},{"site":"Hyytiala (2017)","seg":"Y4","doy":243.5,"ci_ca":0.970},{"site":"Hyytiala (2017)","seg":"Y4","doy":244.0,"ci_ca":0.946},{"site":"Hyytiala (2017)","seg":"Y4","doy":245.0,"ci_ca":0.923},{"site":"Hyytiala (2017)","seg":"Y4","doy":246.0,"ci_ca":0.907},{"site":"Hyytiala (2017)","seg":"Y4","doy":247.0,"ci_ca":0.907},{"site":"Hyytiala (2017)","seg":"Y4","doy":248.0,"ci_ca":0.912},{"site":"Hyytiala (2017)","seg":"Y4","doy":249.0,"ci_ca":0.934},{"site":"Hyytiala (2017)","seg":"Y4","doy":250.0,"ci_ca":0.948},{"site":"Hyytiala (2017)","seg":"Y4","doy":251.0,"ci_ca":0.954},{"site":"Hyytiala (2017)","seg":"Y4","doy":252.0,"ci_ca":0.957},{"site":"Hyytiala (2017)","seg":"Y4","doy":252.9,"ci_ca":0.962},{"site":"Hyytiala (2017)","seg":"Y4","doy":253.9,"ci_ca":0.940},{"site":"Hyytiala (2017)","seg":"Y4","doy":254.9,"ci_ca":0.951},{"site":"Hyytiala (2017)","seg":"Y4","doy":255.9,"ci_ca":0.948},{"site":"Hyytiala (2017)","seg":"Y4","doy":256.9,"ci_ca":0.943},{"site":"Hyytiala (2017)","seg":"Y4","doy":257.9,"ci_ca":0.946},{"site":"Hyytiala (2017)","seg":"Y4","doy":258.9,"ci_ca":0.943},{"site":"Hyytiala (2017)","seg":"Y4","doy":259.9,"ci_ca":0.948},{"site":"Hyytiala (2017)","seg":"Y4","doy":260.8,"ci_ca":0.946},{"site":"Hyytiala (2017)","seg":"Y4","doy":261.8,"ci_ca":0.951},{"site":"Hyytiala (2017)","seg":"Y4","doy":262.8,"ci_ca":0.948},{"site":"Hyytiala (2017)","seg":"Y4","doy":263.8,"ci_ca":0.954},{"site":"Hyytiala (2017)","seg":"Y4","doy":264.8,"ci_ca":0.951},{"site":"Hyytiala (2017)","seg":"Y4","doy":265.8,"ci_ca":0.946},{"site":"Hyytiala (2017)","seg":"Y4","doy":266.8,"ci_ca":0.929},{"site":"Hyytiala (2017)","seg":"Y4","doy":267.8,"ci_ca":0.934},{"site":"Hyytiala (2017)","seg":"Y4","doy":268.7,"ci_ca":0.948},{"site":"Hyytiala (2017)","seg":"Y4","doy":269.7,"ci_ca":0.962},{"site":"Hyytiala (2017)","seg":"Y4","doy":270.7,"ci_ca":0.957},{"site":"Hyytiala (2017)","seg":"Y4","doy":271.7,"ci_ca":0.959},{"site":"Hyytiala (2017)","seg":"Y4","doy":272.7,"ci_ca":0.965},{"site":"Hyytiala (2017)","seg":"Y4","doy":273.7,"ci_ca":0.962},{"site":"Hyytiala (2017)","seg":"Y4","doy":274.7,"ci_ca":0.968},{"site":"Hyytiala (2017)","seg":"Y4","doy":275.7,"ci_ca":0.970},{"site":"Hyytiala (2017)","seg":"Y4","doy":276.6,"ci_ca":0.979},{"site":"Hyytiala (2017)","seg":"Y4","doy":277.6,"ci_ca":0.968},{"site":"Hyytiala (2017)","seg":"Y4","doy":278.6,"ci_ca":0.962},{"site":"Hyytiala (2017)","seg":"Y4","doy":279.6,"ci_ca":0.965},{"site":"Hyytiala (2017)","seg":"Y4","doy":280.6,"ci_ca":0.968},{"site":"Hyytiala (2017)","seg":"Y4","doy":281.6,"ci_ca":0.973},{"site":"Hyytiala (2017)","seg":"Y4","doy":282.6,"ci_ca":0.970},{"site":"Hyytiala (2017)","seg":"Y4","doy":283.6,"ci_ca":0.962},{"site":"Hyytiala (2017)","seg":"Y4","doy":284.5,"ci_ca":0.957},{"site":"Hyytiala (2017)","seg":"Y4","doy":285.5,"ci_ca":0.959},{"site":"Hyytiala (2017)","seg":"Y4","doy":286.5,"ci_ca":0.965},{"site":"Hyytiala (2017)","seg":"Y4","doy":287.5,"ci_ca":0.968},{"site":"Hyytiala (2017)","seg":"Y4","doy":288.5,"ci_ca":0.965},{"site":"Hyytiala (2017)","seg":"Y4","doy":289.5,"ci_ca":0.968},{"site":"Hyytiala (2017)","seg":"Y4","doy":290.5,"ci_ca":0.965},{"site":"Hyytiala (2017)","seg":"Y4","doy":291.5,"ci_ca":0.962},{"site":"Hyytiala (2017)","seg":"Y4","doy":292.4,"ci_ca":0.968},{"site":"Hyytiala (2017)","seg":"Y4","doy":293.4,"ci_ca":0.965},{"site":"Hyytiala (2017)","seg":"Y4","doy":294.4,"ci_ca":0.962},{"site":"Hyytiala (2017)","seg":"Y4","doy":295.4,"ci_ca":0.965},{"site":"Hyytiala (2017)","seg":"Y4","doy":296.4,"ci_ca":0.968},{"site":"Hyytiala (2017)","seg":"Y4","doy":297.4,"ci_ca":0.970},{"site":"Hyytiala (2017)","seg":"Y4","doy":298.4,"ci_ca":0.973},{"site":"Hyytiala (2017)","seg":"Y4","doy":299.4,"ci_ca":0.970},{"site":"Hyytiala (2017)","seg":"Y4","doy":300.4,"ci_ca":0.968},{"site":"Hyytiala (2017)","seg":"Y4","doy":301.3,"ci_ca":0.970},{"site":"Hyytiala (2017)","seg":"Y4","doy":302.3,"ci_ca":0.968},{"site":"Hyytiala (2017)","seg":"Y4","doy":303.3,"ci_ca":0.965},{"site":"Hyytiala (2017)","seg":"Y4","doy":304.3,"ci_ca":0.968},{"site":"Hyytiala (2017)","seg":"Y4","doy":305.3,"ci_ca":0.970},{"site":"Hyytiala (2017)","seg":"Y4","doy":306.3,"ci_ca":0.973},{"site":"Hyytiala (2017)","seg":"Y4","doy":307.3,"ci_ca":0.979},{"site":"Hyytiala (2017)","seg":"Y4","doy":308.3,"ci_ca":0.981},{"site":"Hyytiala (2017)","seg":"Y4","doy":309.2,"ci_ca":0.984},{"site":"Hyytiala (2017)","seg":"Y4","doy":310.2,"ci_ca":0.976},{"site":"Hyytiala (2017)","seg":"Y4","doy":311.2,"ci_ca":0.970},{"site":"Hyytiala (2017)","seg":"Y4","doy":312.2,"ci_ca":0.973},{"site":"Hyytiala (2017)","seg":"Y4","doy":313.2,"ci_ca":0.995},{"site":"Hyytiala (2017)","seg":"Y4","doy":314.2,"ci_ca":0.981},{"site":"Hyytiala (2017)","seg":"Y4","doy":315.2,"ci_ca":0.984},{"site":"Hyytiala (2017)","seg":"Y4","doy":316.2,"ci_ca":0.979},{"site":"Hyytiala (2017)","seg":"Y4","doy":317.1,"ci_ca":0.981},{"site":"Hyytiala (2017)","seg":"Y4","doy":318.1,"ci_ca":0.979},{"site":"Hyytiala (2017)","seg":"Y4","doy":319.1,"ci_ca":0.981},{"site":"Hyytiala (2017)","seg":"Y4","doy":320.1,"ci_ca":0.984},{"site":"Hyytiala (2017)","seg":"Y4","doy":321.1,"ci_ca":0.987},{"site":"Hyytiala (2017)","seg":"Y4","doy":322.1,"ci_ca":0.984},{"site":"Hyytiala (2017)","seg":"Y4","doy":323.1,"ci_ca":0.992},{"site":"Hyytiala (2017)","seg":"Y4","doy":324.1,"ci_ca":0.990},{"site":"Hyytiala (2017)","seg":"Y4","doy":325.1,"ci_ca":0.984},{"site":"Hyytiala (2017)","seg":"Y4","doy":326.0,"ci_ca":0.987},{"site":"Hyytiala (2017)","seg":"Y4","doy":327.0,"ci_ca":0.990},{"site":"Hyytiala (2017)","seg":"Y4","doy":328.0,"ci_ca":0.992},{"site":"Hyytiala (2017)","seg":"Y4","doy":329.0,"ci_ca":0.984},{"site":"Hyytiala (2017)","seg":"Y4","doy":330.0,"ci_ca":0.990},{"site":"Hyytiala (2017)","seg":"Y4","doy":331.0,"ci_ca":0.992},{"site":"Hyytiala (2017)","seg":"Y4","doy":332.0,"ci_ca":0.990},{"site":"Hyytiala (2017)","seg":"Y4","doy":333.0,"ci_ca":0.987},{"site":"Hyytiala (2017)","seg":"Y4","doy":333.9,"ci_ca":0.990},{"site":"Hyytiala (2017)","seg":"Y4","doy":334.9,"ci_ca":0.992},{"site":"Hyytiala (2017)","seg":"Y4","doy":335.9,"ci_ca":0.990},{"site":"Hyytiala (2017)","seg":"Y4","doy":336.9,"ci_ca":1.001},{"site":"Hyytiala (2017)","seg":"Y4","doy":337.9,"ci_ca":0.990},{"site":"Hyytiala (2017)","seg":"Y4","doy":338.9,"ci_ca":0.987},{"site":"Hyytiala (2017)","seg":"Y4","doy":339.9,"ci_ca":0.990},{"site":"Hyytiala (2017)","seg":"Y4","doy":340.9,"ci_ca":0.992},{"site":"Hyytiala (2017)","seg":"Y4","doy":341.8,"ci_ca":0.995},{"site":"Hyytiala (2017)","seg":"Y4","doy":342.8,"ci_ca":0.992},{"site":"Hyytiala (2017)","seg":"Y4","doy":343.8,"ci_ca":0.995},{"site":"Hyytiala (2017)","seg":"Y4","doy":344.8,"ci_ca":0.992},{"site":"Hyytiala (2017)","seg":"Y4","doy":345.8,"ci_ca":0.995},{"site":"Hyytiala (2017)","seg":"Y4","doy":346.8,"ci_ca":0.990},{"site":"Hyytiala (2017)","seg":"Y4","doy":347.8,"ci_ca":0.984},{"site":"Hyytiala (2017)","seg":"Y4","doy":348.8,"ci_ca":0.992},{"site":"Hyytiala (2017)","seg":"Y4","doy":349.7,"ci_ca":0.995},{"site":"Hyytiala (2017)","seg":"Y4","doy":350.7,"ci_ca":0.990},{"site":"Hyytiala (2017)","seg":"Y4","doy":351.7,"ci_ca":0.992},{"site":"Hyytiala (2017)","seg":"Y4","doy":352.7,"ci_ca":0.995},{"site":"Hyytiala (2017)","seg":"Y4","doy":353.7,"ci_ca":0.992},{"site":"Hyytiala (2017)","seg":"Y4","doy":354.7,"ci_ca":0.990},{"site":"Hyytiala (2017)","seg":"Y4","doy":355.7,"ci_ca":0.995},{"site":"Hyytiala (2017)","seg":"Y4","doy":356.7,"ci_ca":0.990},{"site":"Hyytiala (2017)","seg":"Y4","doy":357.7,"ci_ca":0.998},{"site":"Hyytiala (2017)","seg":"Y4","doy":358.6,"ci_ca":0.990},{"site":"Hyytiala (2017)","seg":"Y4","doy":359.6,"ci_ca":0.995},{"site":"Hyytiala (2017)","seg":"Y4","doy":360.6,"ci_ca":0.992},{"site":"Hyytiala (2017)","seg":"Y4","doy":361.6,"ci_ca":1.001},{"site":"Hyytiala (2017)","seg":"Y4","doy":362.6,"ci_ca":1.003},{"site":"Hyytiala (2017)","seg":"Y4","doy":363.6,"ci_ca":0.995},{"site":"Hyytiala (2017)","seg":"Y4","doy":364.6,"ci_ca":0.987}
    ],
    "diel": [
      {"site":"Harvard (2012)","seg":"H1","hour":0.25,"ci_ca":0.990},{"site":"Harvard (2012)","seg":"H1","hour":0.75,"ci_ca":0.981},{"site":"Harvard (2012)","seg":"H1","hour":1.25,"ci_ca":0.981},{"site":"Harvard (2012)","seg":"H1","hour":1.75,"ci_ca":0.970},{"site":"Harvard (2012)","seg":"H1","hour":2.25,"ci_ca":0.970},
      {"site":"Harvard (2012)","seg":"H2","hour":3.25,"ci_ca":0.993},{"site":"Harvard (2012)","seg":"H2","hour":3.75,"ci_ca":0.992},{"site":"Harvard (2012)","seg":"H2","hour":4.25,"ci_ca":0.918},{"site":"Harvard (2012)","seg":"H2","hour":4.75,"ci_ca":0.888},{"site":"Harvard (2012)","seg":"H2","hour":5.25,"ci_ca":0.835},{"site":"Harvard (2012)","seg":"H2","hour":5.75,"ci_ca":0.813},{"site":"Harvard (2012)","seg":"H2","hour":6.25,"ci_ca":0.789},{"site":"Harvard (2012)","seg":"H2","hour":6.75,"ci_ca":0.779},{"site":"Harvard (2012)","seg":"H2","hour":7.25,"ci_ca":0.766},{"site":"Harvard (2012)","seg":"H2","hour":7.75,"ci_ca":0.758},{"site":"Harvard (2012)","seg":"H2","hour":8.25,"ci_ca":0.750},{"site":"Harvard (2012)","seg":"H2","hour":8.75,"ci_ca":0.742},{"site":"Harvard (2012)","seg":"H2","hour":9.25,"ci_ca":0.734},{"site":"Harvard (2012)","seg":"H2","hour":9.75,"ci_ca":0.727},{"site":"Harvard (2012)","seg":"H2","hour":10.25,"ci_ca":0.720},{"site":"Harvard (2012)","seg":"H2","hour":10.75,"ci_ca":0.712},{"site":"Harvard (2012)","seg":"H2","hour":11.25,"ci_ca":0.708},{"site":"Harvard (2012)","seg":"H2","hour":11.75,"ci_ca":0.701},{"site":"Harvard (2012)","seg":"H2","hour":12.25,"ci_ca":0.697},{"site":"Harvard (2012)","seg":"H2","hour":12.75,"ci_ca":0.695},{"site":"Harvard (2012)","seg":"H2","hour":13.25,"ci_ca":0.694},{"site":"Harvard (2012)","seg":"H2","hour":13.75,"ci_ca":0.693},{"site":"Harvard (2012)","seg":"H2","hour":14.25,"ci_ca":0.692},{"site":"Harvard (2012)","seg":"H2","hour":14.75,"ci_ca":0.692},{"site":"Harvard (2012)","seg":"H2","hour":15.25,"ci_ca":0.692},{"site":"Harvard (2012)","seg":"H2","hour":15.75,"ci_ca":0.695},{"site":"Harvard (2012)","seg":"H2","hour":16.25,"ci_ca":0.699},{"site":"Harvard (2012)","seg":"H2","hour":16.75,"ci_ca":0.709},{"site":"Harvard (2012)","seg":"H2","hour":17.25,"ci_ca":0.720},{"site":"Harvard (2012)","seg":"H2","hour":17.75,"ci_ca":0.737},{"site":"Harvard (2012)","seg":"H2","hour":18.25,"ci_ca":0.767},{"site":"Harvard (2012)","seg":"H2","hour":18.75,"ci_ca":0.827},{"site":"Harvard (2012)","seg":"H2","hour":19.25,"ci_ca":0.877},{"site":"Harvard (2012)","seg":"H2","hour":19.75,"ci_ca":0.964},{"site":"Harvard (2012)","seg":"H2","hour":20.25,"ci_ca":0.978},{"site":"Harvard (2012)","seg":"H2","hour":20.75,"ci_ca":1.005},{"site":"Harvard (2012)","seg":"H2","hour":21.25,"ci_ca":1.004},{"site":"Harvard (2012)","seg":"H2","hour":21.75,"ci_ca":1.003},{"site":"Harvard (2012)","seg":"H2","hour":22.25,"ci_ca":1.001},{"site":"Harvard (2012)","seg":"H2","hour":22.75,"ci_ca":0.999},{"site":"Harvard (2012)","seg":"H2","hour":23.25,"ci_ca":0.997},{"site":"Harvard (2012)","seg":"H2","hour":23.75,"ci_ca":0.993},
      {"site":"Hyytiala (2017)","seg":"Y","hour":0.25,"ci_ca":1.0285},{"site":"Hyytiala (2017)","seg":"Y","hour":0.75,"ci_ca":1.027},{"site":"Hyytiala (2017)","seg":"Y","hour":1.25,"ci_ca":1.026},{"site":"Hyytiala (2017)","seg":"Y","hour":1.75,"ci_ca":1.025},{"site":"Hyytiala (2017)","seg":"Y","hour":2.25,"ci_ca":1.020},{"site":"Hyytiala (2017)","seg":"Y","hour":2.75,"ci_ca":1.009},{"site":"Hyytiala (2017)","seg":"Y","hour":3.25,"ci_ca":0.992},{"site":"Hyytiala (2017)","seg":"Y","hour":3.75,"ci_ca":0.967},{"site":"Hyytiala (2017)","seg":"Y","hour":4.25,"ci_ca":0.942},{"site":"Hyytiala (2017)","seg":"Y","hour":4.75,"ci_ca":0.922},{"site":"Hyytiala (2017)","seg":"Y","hour":5.25,"ci_ca":0.903},{"site":"Hyytiala (2017)","seg":"Y","hour":5.75,"ci_ca":0.889},{"site":"Hyytiala (2017)","seg":"Y","hour":6.25,"ci_ca":0.878},{"site":"Hyytiala (2017)","seg":"Y","hour":6.75,"ci_ca":0.868},{"site":"Hyytiala (2017)","seg":"Y","hour":7.25,"ci_ca":0.859},{"site":"Hyytiala (2017)","seg":"Y","hour":7.75,"ci_ca":0.852},{"site":"Hyytiala (2017)","seg":"Y","hour":8.25,"ci_ca":0.846},{"site":"Hyytiala (2017)","seg":"Y","hour":8.75,"ci_ca":0.841},{"site":"Hyytiala (2017)","seg":"Y","hour":9.25,"ci_ca":0.837},{"site":"Hyytiala (2017)","seg":"Y","hour":9.75,"ci_ca":0.832},{"site":"Hyytiala (2017)","seg":"Y","hour":10.25,"ci_ca":0.827},{"site":"Hyytiala (2017)","seg":"Y","hour":10.75,"ci_ca":0.820},{"site":"Hyytiala (2017)","seg":"Y","hour":11.25,"ci_ca":0.813},{"site":"Hyytiala (2017)","seg":"Y","hour":11.75,"ci_ca":0.811},{"site":"Hyytiala (2017)","seg":"Y","hour":12.25,"ci_ca":0.808},{"site":"Hyytiala (2017)","seg":"Y","hour":12.75,"ci_ca":0.806},{"site":"Hyytiala (2017)","seg":"Y","hour":13.25,"ci_ca":0.805},{"site":"Hyytiala (2017)","seg":"Y","hour":13.75,"ci_ca":0.804},{"site":"Hyytiala (2017)","seg":"Y","hour":14.25,"ci_ca":0.804},{"site":"Hyytiala (2017)","seg":"Y","hour":14.75,"ci_ca":0.804},{"site":"Hyytiala (2017)","seg":"Y","hour":15.25,"ci_ca":0.804},{"site":"Hyytiala (2017)","seg":"Y","hour":15.75,"ci_ca":0.804},{"site":"Hyytiala (2017)","seg":"Y","hour":16.25,"ci_ca":0.804},{"site":"Hyytiala (2017)","seg":"Y","hour":16.75,"ci_ca":0.807},{"site":"Hyytiala (2017)","seg":"Y","hour":17.25,"ci_ca":0.811},{"site":"Hyytiala (2017)","seg":"Y","hour":17.75,"ci_ca":0.819},{"site":"Hyytiala (2017)","seg":"Y","hour":18.25,"ci_ca":0.830},{"site":"Hyytiala (2017)","seg":"Y","hour":18.75,"ci_ca":0.844},{"site":"Hyytiala (2017)","seg":"Y","hour":19.25,"ci_ca":0.864},{"site":"Hyytiala (2017)","seg":"Y","hour":19.75,"ci_ca":0.886},{"site":"Hyytiala (2017)","seg":"Y","hour":20.25,"ci_ca":0.912},{"site":"Hyytiala (2017)","seg":"Y","hour":20.75,"ci_ca":0.942},{"site":"Hyytiala (2017)","seg":"Y","hour":21.25,"ci_ca":0.970},{"site":"Hyytiala (2017)","seg":"Y","hour":21.75,"ci_ca":0.997},{"site":"Hyytiala (2017)","seg":"Y","hour":22.25,"ci_ca":1.019},{"site":"Hyytiala (2017)","seg":"Y","hour":22.75,"ci_ca":1.027},{"site":"Hyytiala (2017)","seg":"Y","hour":23.25,"ci_ca":1.027},{"site":"Hyytiala (2017)","seg":"Y","hour":23.75,"ci_ca":1.029}
    ]
  },
  "vconcat": [
    {
      "width": 615,
      "height": 302,
      "title": {"text": "Seasonal evolution of Ci/Ca at sites", "offset": 9},
      "data": {"name": "seasonal"},
      "layer": [
        {
          "mark": {"type": "line", "strokeWidth": 2},
          "encoding": {
            "x": {"field": "doy", "type": "quantitative", "title": "DOY",
                  "scale": {"domain": [1, 365], "nice": false, "zero": false},
                  "axis": {"orient": "bottom", "offset": -6, "tickSize": 6, "tickColor": "red", "tickWidth": 3,
                           "values": [10,20,30,40,50,60,70,80,90,100,110,120,130,140,150,160,170,180,190,200,210,220,230,240,250,260,270,280,290,300,310,320,330,340,350,360],
                           "labelExpr": "datum.value % 100 === 0 ? format(datum.value, 'd') : ''",
                           "labelPadding": 17, "labelFlush": false, "titlePadding": 6}},
            "y": {"field": "ci_ca", "type": "quantitative", "title": "Ci/Ca (ppm/ppm)",
                  "scale": {"domain": [0.6, 1.1], "nice": false, "zero": false},
                  "axis": {"orient": "left", "offset": -8, "tickSize": 8, "tickColor": "red", "tickWidth": 3,
                           "values": [0.6,0.62,0.64,0.66,0.68,0.7,0.72,0.74,0.76,0.78,0.8,0.82,0.84,0.86,0.88,0.9,0.92,0.94,0.96,0.98,1.0,1.02,1.04,1.06,1.08,1.1],
                           "labelExpr": "abs(datum.value*10 - round(datum.value*10)) < 0.001 ? format(datum.value, '.1f') : ''",
                           "labelPadding": 8, "labelFlush": true, "titlePadding": 16}},
            "color": {"field": "site", "type": "nominal",
                      "scale": {"domain": ["Harvard (2012)", "Hyytiala (2017)"], "range": ["#00ff00", "#ff0000"]},
                      "legend": {"orient": "none", "legendX": -88, "legendY": 318, "direction": "vertical", "title": null,
                                 "strokeColor": "black", "fillColor": "white", "padding": 5, "symbolType": "stroke",
                                 "symbolStrokeWidth": 2, "symbolSize": 400, "symbolOffset": 10, "labelOffset": 13, "rowPadding": 0, "labelFontSize": 15}},
            "detail": {"field": "seg", "type": "nominal"}
          }
        },
        {
          "mark": {"type": "point", "opacity": 0},
          "encoding": {
            "x": {"field": "doy", "type": "quantitative",
                  "axis": {"orient": "top", "offset": -6, "tickSize": 6, "title": null, "labels": false,
                           "values": [10,20,30,40,50,60,70,80,90,100,110,120,130,140,150,160,170,180,190,200,210,220,230,240,250,260,270,280,290,300,310,320,330,340,350,360]}},
            "y": {"field": "ci_ca", "type": "quantitative",
                  "axis": {"orient": "right", "offset": -8, "tickSize": 8, "title": null, "labels": false,
                           "values": [0.6,0.62,0.64,0.66,0.68,0.7,0.72,0.74,0.76,0.78,0.8,0.82,0.84,0.86,0.88,0.9,0.92,0.94,0.96,0.98,1.0,1.02,1.04,1.06,1.08,1.1]}}
          }
        }
      ],
      "resolve": {"axis": {"x": "independent", "y": "independent"}}
    },
    {
      "width": 615,
      "height": 312,
      "title": {"text": "Mean diel cycle of Ci/Ca [May−September]", "offset": 2},
      "data": {"name": "diel"},
      "layer": [
        {
          "mark": {"type": "line", "strokeWidth": 2},
          "encoding": {
            "x": {"field": "hour", "type": "quantitative", "title": "Hour",
                  "scale": {"domain": [0, 24], "nice": false, "zero": false},
                  "axis": {"orient": "bottom", "offset": -6, "tickSize": 6, "tickColor": "red", "tickWidth": 3,
                           "values": [0,1,2,3,4,5,6,7,8,9,10,11,12,13,14,15,16,17,18,19,20,21,22,23],
                           "labelExpr": "datum.value % 5 === 0 ? format(datum.value, 'd') : ''",
                           "labelPadding": 17, "labelFlush": false, "titlePadding": 6}},
            "y": {"field": "ci_ca", "type": "quantitative", "title": "Ci/Ca (ppm/ppm)",
                  "scale": {"domain": [0.6, 1.1], "nice": false, "zero": false},
                  "axis": {"orient": "left", "offset": -8, "tickSize": 8, "tickColor": "red", "tickWidth": 3,
                           "values": [0.6,0.62,0.64,0.66,0.68,0.7,0.72,0.74,0.76,0.78,0.8,0.82,0.84,0.86,0.88,0.9,0.92,0.94,0.96,0.98,1.0,1.02,1.04,1.06,1.08,1.1],
                           "labelExpr": "abs(datum.value*10 - round(datum.value*10)) < 0.001 ? format(datum.value, '.1f') : ''",
                           "labelPadding": 8, "labelFlush": true, "titlePadding": 16}},
            "color": {"field": "site", "type": "nominal",
                      "scale": {"domain": ["Harvard (2012)", "Hyytiala (2017)"], "range": ["#00ff00", "#ff0000"]},
                      "legend": {"orient": "none", "legendX": -100, "legendY": 352, "direction": "horizontal", "columns": 2, "title": null,
                                 "strokeColor": "black", "fillColor": "white", "padding": 5, "symbolType": "stroke",
                                 "symbolStrokeWidth": 2, "symbolSize": 400, "symbolOffset": 12, "labelOffset": 13, "columnPadding": 36, "labelFontSize": 15}},
            "detail": {"field": "seg", "type": "nominal"}
          }
        },
        {
          "mark": {"type": "point", "opacity": 0},
          "encoding": {
            "x": {"field": "hour", "type": "quantitative",
                  "axis": {"orient": "top", "offset": -6, "tickSize": 6, "title": null, "labels": false,
                           "values": [1,2,3,4,5,6,7,8,9,10,11,12,13,14,15,16,17,18,19,20,21,22,23]}},
            "y": {"field": "ci_ca", "type": "quantitative",
                  "axis": {"orient": "right", "offset": -8, "tickSize": 8, "title": null, "labels": false,
                           "values": [0.6,0.62,0.64,0.66,0.68,0.7,0.72,0.74,0.76,0.78,0.8,0.82,0.84,0.86,0.88,0.9,0.92,0.94,0.96,0.98,1.0,1.02,1.04,1.06,1.08,1.1]}}
          }
        }
      ],
      "resolve": {"axis": {"x": "independent", "y": "independent"}}
    }
  ]
}
